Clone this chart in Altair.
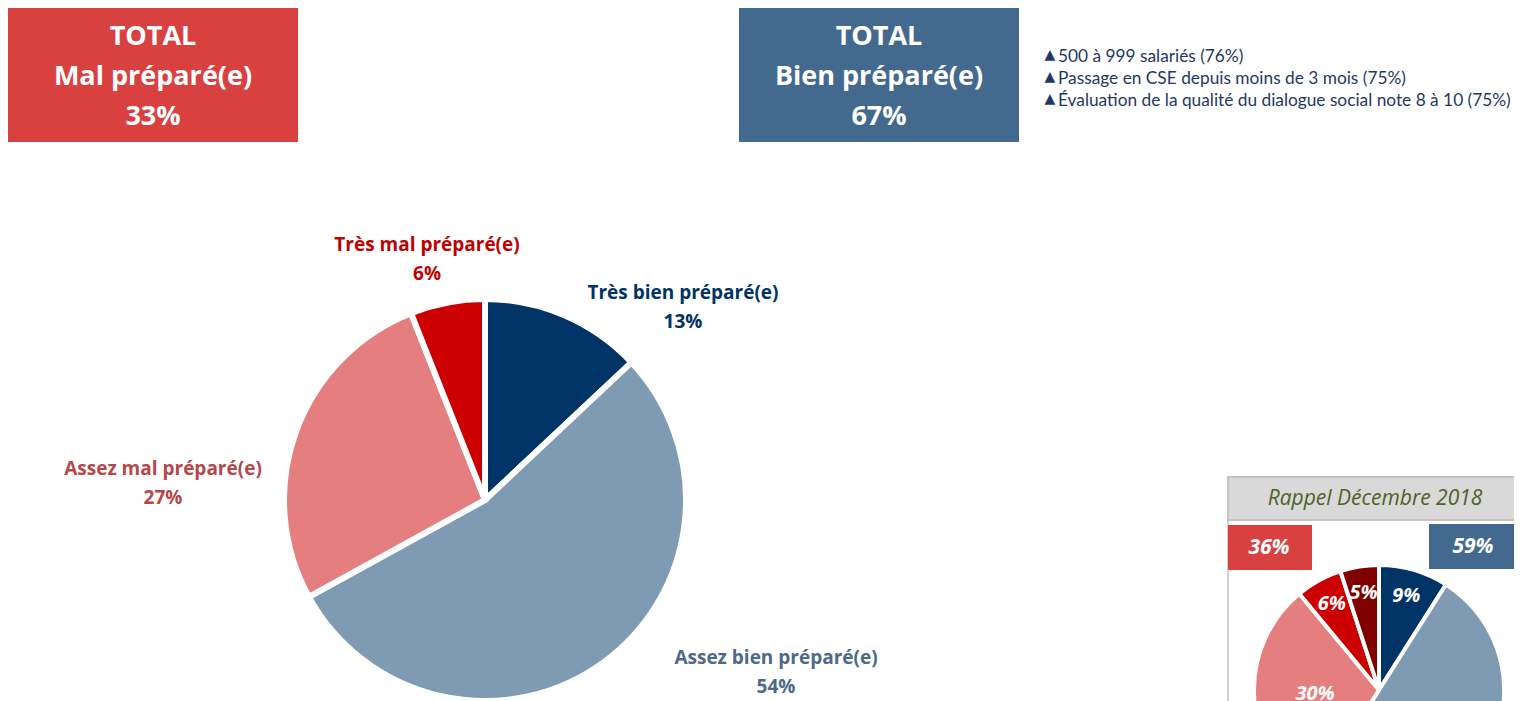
import altair as alt
import pandas as pd

# ---- data ----
main_cats = ["Très bien préparé(e)", "Assez bien préparé(e)", "Assez mal préparé(e)", "Très mal préparé(e)"]
main_vals = [13, 54, 27, 6]
main_colors = ["#003366", "#7F9AB3", "#E57E7E", "#CC0000"]
main_label_colors = ["#003366", "#4D6A8A", "#B5474A", "#C00000"]

rappel_cats = ["Très bien", "Assez bien", "Assez mal", "Très mal", "NSP"]
rappel_vals = [9, 50, 30, 6, 5]
rappel_colors = ["#003366", "#7F9AB3", "#E57E7E", "#CC0000", "#800000"]

total_mal = 33
total_bien = 67
rappel_mal = 36
rappel_bien = 59

bullets = [
    "500 à 999 salariés (76%)",
    "Passage en CSE depuis moins de 3 mois (75%)",
    "Évaluation de la qualité du dialogue social note 8 à 10 (75%)",
]
rappel_title = "Rappel Décembre 2018"

BOLD_FONT = "Open Sans"
FONT = "Lato"

main_df = pd.DataFrame({
    "cat": main_cats, "pct": main_vals, "idx": list(range(len(main_cats))),
    "label": [f"{c}\n{v}%" for c, v in zip(main_cats, main_vals)],
})
rap_df = pd.DataFrame({
    "cat": rappel_cats, "pct": rappel_vals, "idx": list(range(len(rappel_cats))),
    "label": [f"{v}%" for v in rappel_vals],
})

one = pd.DataFrame({"k": [0]})

layers = []

# ---- boxes ----
def box(x1, x2, y1, y2, color, text, size, cx, cy, lh, italic=False):
    r = alt.Chart(one).mark_rect(color=color).encode(
        x=alt.value(x1), x2=alt.value(x2), y=alt.value(y1), y2=alt.value(y2))
    t = alt.Chart(pd.DataFrame({"t": [text]})).mark_text(
        font=BOLD_FONT, fontSize=size, fontWeight="bold", color="white",
        fontStyle="italic" if italic else "normal",
        lineBreak="\n", lineHeight=lh, align="center", baseline="middle"
    ).encode(text="t:N", x=alt.value(cx), y=alt.value(cy))
    return [r, t]

layers += box(0, 290, -1, 134, "#D94141", f"TOTAL\nMal préparé(e)\n{total_mal}%", 27, 145, 29, 40)
layers += box(731, 1011, -1, 134, "#43698F", f"TOTAL\nBien préparé(e)\n{total_bien}%", 27, 871, 29, 40)

# ---- bullets ----
layers.append(alt.Chart(pd.DataFrame({"t": ["\n".join("▲" for _ in bullets)]})).mark_text(
    font="DejaVu Sans", fontSize=14, color="#1F3864", lineBreak="\n", lineHeight=22,
    align="center", baseline="middle").encode(text="t:N", x=alt.value(1042), y=alt.value(47)))
layers.append(alt.Chart(pd.DataFrame({"t": ["\n".join(bullets)]})).mark_text(
    font=FONT, fontSize=17.3, color="#1F3864", lineBreak="\n", lineHeight=22,
    align="left", baseline="middle").encode(text="t:N", x=alt.value(1050), y=alt.value(49)))

# ---- main pie ----
main_pie = alt.Chart(main_df).mark_arc(radius=201, stroke="white", strokeWidth=6).encode(
    theta=alt.Theta("pct:Q", stack=True),
    color=alt.Color("cat:N", scale=alt.Scale(domain=main_cats, range=main_colors), legend=None),
    order=alt.Order("idx:Q"),
    x=alt.value(477), y=alt.value(492),
)
layers.append(main_pie)

label_pos = [(675, 285), (768, 650), (155, 461), (419, 237)]
for cat, col, (lx, ly) in zip(main_cats, main_label_colors, label_pos):
    layers.append(alt.Chart(main_df).transform_filter(alt.datum.cat == cat).mark_text(
        font=BOLD_FONT, fontSize=19, fontWeight="bold", color=col, lineBreak="\n", lineHeight=29,
        align="center", baseline="middle").encode(text="label:N", x=alt.value(lx), y=alt.value(ly)))

# ---- rappel panel ----
layers.append(alt.Chart(one).mark_rect(fill="white", stroke="#D0D0D0", strokeWidth=2).encode(
    x=alt.value(1220), x2=alt.value(1513), y=alt.value(469), y2=alt.value(700)))
layers.append(alt.Chart(one).mark_rect(fill="#D9D9D9", stroke="#C4C4C4", strokeWidth=2).encode(
    x=alt.value(1220), x2=alt.value(1513), y=alt.value(469), y2=alt.value(512)))
layers.append(alt.Chart(pd.DataFrame({"t": [rappel_title]})).mark_text(
    font=BOLD_FONT, fontSize=21, fontStyle="italic", color="#4F6228", align="center", baseline="middle"
).encode(text="t:N", x=alt.value(1367), y=alt.value(491)))

layers += box(1220, 1304, 517, 562, "#D94141", f"{rappel_mal}%", 21, 1261, 540, 26, italic=True)
layers += box(1421, 1511, 516, 561, "#43698F", f"{rappel_bien}%", 21, 1465, 539, 26, italic=True)

rap_pie = alt.Chart(rap_df).mark_arc(radius=125, stroke="white", strokeWidth=4).encode(
    theta=alt.Theta("pct:Q", stack=True),
    color=alt.Color("cat:N", scale=alt.Scale(domain=rappel_cats, range=rappel_colors), legend=None),
    order=alt.Order("idx:Q"),
    x=alt.value(1371), y=alt.value(682),
)
layers.append(rap_pie)

rap_text_base = alt.Chart(rap_df).transform_window(
    cum="sum(pct)", sort=[alt.SortField("idx")]
).transform_joinaggregate(total="sum(pct)").transform_calculate(
    mid="(datum.cum - datum.pct / 2) / datum.total"
).encode(
    theta=alt.Theta("mid:Q", stack=None, scale=alt.Scale(domain=[0, 1])),
    text="label:N", x=alt.value(1371), y=alt.value(682))
layers.append(rap_text_base.transform_filter("datum.pct < 20").mark_text(
    radius=98, font=BOLD_FONT, fontSize=20, fontWeight="bold", fontStyle="italic", color="white"))
layers.append(rap_text_base.transform_filter("datum.pct >= 20 && datum.pct < 40").mark_text(
    radius=64, font=BOLD_FONT, fontSize=20, fontWeight="bold", fontStyle="italic", color="white"))

chart = alt.layer(*layers).resolve_scale(color="independent", theta="independent").properties(
    width=1506, height=693, padding=0, autosize=alt.AutoSizeParams(type="none")
).configure_view(strokeWidth=0)

chart.save("out.html", embed_options={"renderer": "svg", "actions": False})
